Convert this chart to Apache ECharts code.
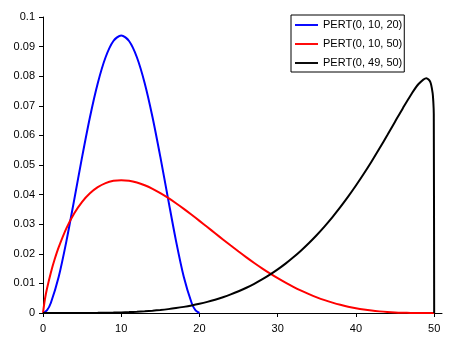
<!DOCTYPE html>
<html>
<head>
<meta charset="utf-8">
<script src="https://cdn.jsdelivr.net/npm/echarts@6/dist/echarts.min.js"></script>
<style>
  html, body { margin: 0; padding: 0; background: #fff; }
  #chart { width: 461px; height: 349px; }
</style>
</head>
<body>
<div id="chart"></div>
<script>
// PERT densities sampled along x
const seriesNames = ['PERT(0, 10, 20)', 'PERT(0, 10, 50)', 'PERT(0, 49, 50)'];

const blueX = [0, 0.5, 1, 2, 3, 4, 5, 6, 7, 8, 9, 10, 11, 12, 13, 14, 15, 16, 17, 18, 19, 19.5, 20];
const blueY = [0, 0.00089, 0.00338, 0.01215, 0.02438, 0.0384, 0.05273, 0.06615, 0.07763, 0.0864, 0.09188,
  0.09375, 0.09188, 0.0864, 0.07763, 0.06615, 0.05273, 0.0384, 0.02438, 0.01215, 0.00338, 0.00089, 0];

const redX = [0, 0.25, 0.5, 1, 1.5, 2, 3, 4, 5, 6, 7, 8, 9, 10, 11, 12, 13, 14, 15, 16, 17, 18, 19,
  20, 21, 22, 23, 24, 25, 26, 27, 28, 29, 30, 31, 32, 33, 34, 35, 36, 37, 38, 39, 40, 41, 42, 43,
  44, 45, 46, 47, 48, 49, 50];
const redY = [0, 0.00472, 0.00808, 0.01362, 0.01823, 0.0222, 0.0287, 0.03373, 0.03758, 0.04047,
  0.04253, 0.04389, 0.04465, 0.04489, 0.04468, 0.04408, 0.04315, 0.04194, 0.0405, 0.03887, 0.03708,
  0.03518, 0.03318, 0.03113, 0.02904, 0.02694, 0.02485, 0.02278, 0.02076, 0.0188, 0.01691, 0.0151,
  0.01338, 0.01176, 0.01025, 0.00884, 0.00755, 0.00637, 0.0053, 0.00435, 0.00351, 0.00277, 0.00214,
  0.00161, 0.00117, 0.00082, 0.00055, 0.00034, 0.00019, 0.0001, 0.00004, 0.00001, 0, 0];

const blackX = [0, 1, 2, 3, 4, 5, 6, 7, 8, 9, 10, 11, 12, 13, 14, 15, 16, 17, 18, 19, 20, 21, 22,
  23, 24, 25, 26, 27, 28, 29, 30, 31, 32, 33, 34, 35, 36, 37, 38, 39, 40, 41, 42, 43, 44, 45, 46,
  47, 48, 49, 49.5, 49.8, 49.9, 49.95, 50];
const blackY = [0, 0, 0, 0.000002, 0.000006, 0.000014, 0.000029, 0.000052, 0.000088, 0.000139,
  0.00021, 0.000305, 0.000427, 0.000584, 0.000779, 0.001018, 0.001308, 0.001655, 0.002066, 0.002547,
  0.003106, 0.00375, 0.004488, 0.005327, 0.006275, 0.007341, 0.008533, 0.00986, 0.01133, 0.012953,
  0.014737, 0.016689, 0.018819, 0.021135, 0.023643, 0.026351, 0.029266, 0.032392, 0.035732, 0.039288,
  0.043058, 0.047036, 0.051211, 0.055562, 0.060056, 0.064639, 0.069207, 0.073582, 0.077361, 0.079349,
  0.078117, 0.074335, 0.070881, 0.067321, 0];

const xTicks = [0, 10, 20, 30, 40, 50];

const pairs = (xs, ys) => xs.map((x, i) => [x, ys[i]]);
const FONT = "'Liberation Sans', Arial, sans-serif";

function curve(name, color, data) {
  return {
    name: name,
    type: 'line',
    data: data,
    showSymbol: false,
    symbol: 'none',
    smooth: 0.3,
    lineStyle: { color: color, width: 2 },
    itemStyle: { color: color },
    emphasis: { disabled: true }
  };
}

const chart = echarts.init(document.getElementById('chart'), null, { renderer: 'canvas' });
chart.setOption({
  animation: false,
  backgroundColor: '#ffffff',
  grid: { left: 43, right: 19, top: 17, bottom: 36 },
  legend: {
    orient: 'vertical',
    left: 291,
    top: 15,
    padding: [4, 2, 3, 4],
    itemWidth: 23,
    itemHeight: 12,
    itemGap: 7,
    backgroundColor: '#ffffff',
    borderColor: '#000000',
    borderWidth: 1,
    borderRadius: 0,
    itemStyle: { borderWidth: 0 },
    textStyle: { fontFamily: FONT, fontSize: 11, color: '#000', lineHeight: 12 },
    data: seriesNames.map((n, i) => ({
      name: n,
      icon: 'path://M0,0L24,0L24,2L0,2Z',
      itemStyle: { color: ['#0000ff', '#ff0000', '#000000'][i] }
    }))
  },
  xAxis: {
    type: 'value',
    min: 0,
    max: 51,
    interval: 10,
    splitLine: { show: false },
    axisLine: { show: true, onZero: false, lineStyle: { color: '#000', width: 1 } },
    axisTick: { show: true, length: 4, customValues: xTicks, lineStyle: { color: '#000', width: 1 } },
    axisLabel: {
      customValues: xTicks,
      margin: 10,
      fontFamily: FONT, fontSize: 11, color: '#000'
    }
  },
  yAxis: {
    type: 'value',
    min: 0,
    max: 0.1,
    interval: 0.01,
    splitLine: { show: false },
    axisLine: { show: true, lineStyle: { color: '#000', width: 1 } },
    axisTick: { show: true, length: 4, lineStyle: { color: '#000', width: 1 } },
    axisLabel: {
      margin: 8,
      fontFamily: FONT, fontSize: 11, color: '#000',
      formatter: v => String(+v.toFixed(2))
    }
  },
  series: [
    curve(seriesNames[0], '#0000ff', pairs(blueX, blueY)),
    curve(seriesNames[1], '#ff0000', pairs(redX, redY)),
    curve(seriesNames[2], '#000000', pairs(blackX, blackY))
  ]
});
</script>
</body>
</html>
